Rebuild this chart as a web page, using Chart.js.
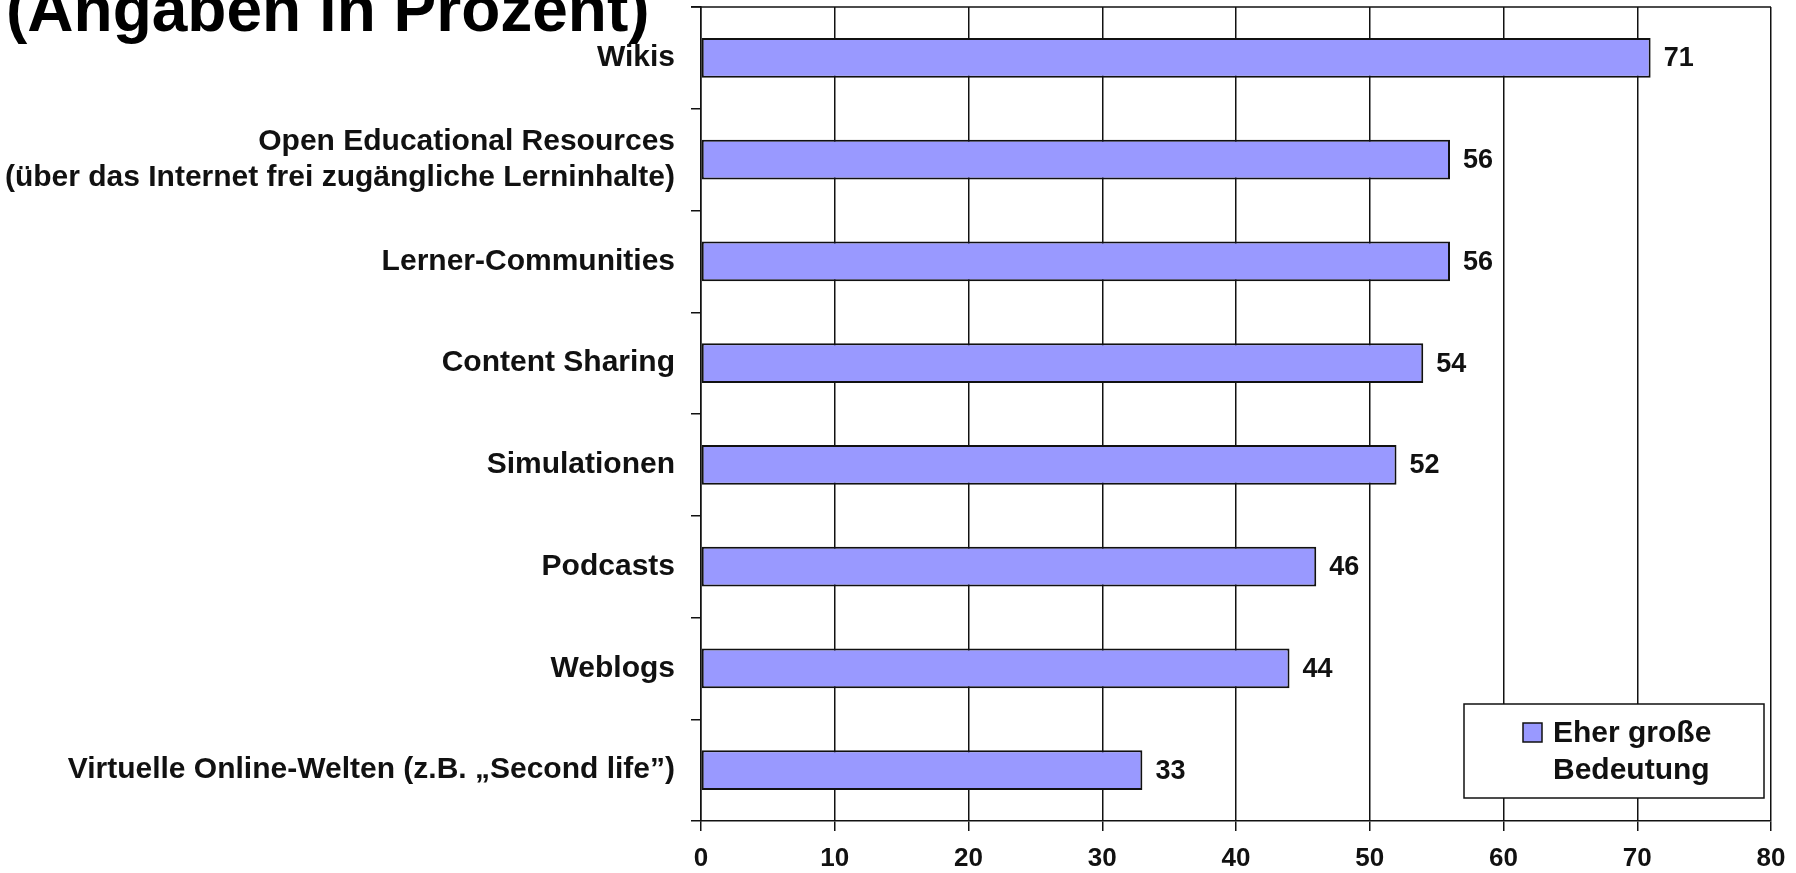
<!DOCTYPE html>
<html>
<head>
<meta charset="utf-8">
<script src="https://cdn.jsdelivr.net/npm/chart.js@4/dist/chart.umd.min.js"></script>
<style>
  html, body { margin: 0; padding: 0; background: #ffffff; }
  #wrap { width: 1796px; height: 873px; }
</style>
</head>
<body>
<div id="wrap"><canvas id="chart" width="1796" height="873"></canvas></div>
<script>
const categories = [
  "Wikis",
  ["Open Educational Resources", "(über das Internet frei zugängliche Lerninhalte)"],
  "Lerner-Communities",
  "Content Sharing",
  "Simulationen",
  "Podcasts",
  "Weblogs",
  "Virtuelle Online-Welten (z.B. „Second life”)",
];
const values = [71, 56, 56, 54, 52, 46, 44, 33];
const seriesLabel = ["Eher große", "Bedeutung"];
const xTicks = [0, 10, 20, 30, 40, 50, 60, 70, 80];
const titleText = "(Angaben in Prozent)";

const FONT = "'Liberation Sans', Arial, sans-serif";
const INK = "#111111";

const valueLabels = {
  id: "valueLabels",
  afterDatasetsDraw(chart) {
    const { ctx } = chart;
    const meta = chart.getDatasetMeta(0);
    ctx.save();
    ctx.font = `bold 27px ${FONT}`;
    ctx.fillStyle = INK;
    ctx.textAlign = "left";
    ctx.textBaseline = "middle";
    meta.data.forEach((bar, i) => {
      ctx.fillText(String(chart.data.datasets[0].data[i]), bar.x + 13, bar.y + 1);
    });
    ctx.restore();
  },
};

const frameAndText = {
  id: "frameAndText",
  afterDraw(chart) {
    const { ctx, chartArea } = chart;
    ctx.save();
    // top border of the plot
    ctx.strokeStyle = INK;
    ctx.lineWidth = 1.5;
    ctx.beginPath();
    ctx.moveTo(chartArea.left - 10, chartArea.top);
    ctx.lineTo(chartArea.right, chartArea.top);
    ctx.stroke();

    // title, partly cut at the top
    ctx.font = `bold 64px ${FONT}`;
    ctx.fillStyle = "#000000";
    ctx.textAlign = "left";
    ctx.textBaseline = "alphabetic";
    ctx.fillText(titleText, 6, 31);

    // legend box
    const ds = chart.data.datasets[0];
    const bx = chartArea.right - 307;
    const by = chartArea.bottom - 117;
    ctx.fillStyle = "#ffffff";
    ctx.fillRect(bx, by, 300, 94);
    ctx.strokeStyle = INK;
    ctx.lineWidth = 1.5;
    ctx.strokeRect(bx, by, 300, 94);
    ctx.fillStyle = ds.backgroundColor;
    ctx.fillRect(bx + 59, by + 19, 19, 19);
    ctx.strokeRect(bx + 59, by + 19, 19, 19);
    ctx.fillStyle = INK;
    ctx.font = `bold 30px ${FONT}`;
    ctx.textBaseline = "middle";
    ds.label.forEach((line, i) => {
      ctx.fillText(line, bx + 89, by + 30 + i * 37);
    });
    ctx.restore();
  },
};

new Chart(document.getElementById("chart"), {
  type: "bar",
  data: {
    labels: categories,
    datasets: [{
      label: seriesLabel,
      data: values,
      backgroundColor: "#9999ff",
      borderColor: INK,
      borderWidth: 2,
      borderSkipped: false,
      barPercentage: 0.39,
      categoryPercentage: 1,
    }],
  },
  options: {
    indexAxis: "y",
    responsive: false,
    animation: false,
    layout: { padding: { top: 7, right: 25, left: 0, bottom: 0 } },
    plugins: {
      legend: { display: false },
      title: { display: false },
      tooltip: { enabled: false },
    },
    scales: {
      x: {
        min: 0,
        max: 80,
        afterBuildTicks(scale) {
          scale.ticks = xTicks.map((v) => ({ value: v }));
        },
        afterFit(scale) {
          scale.height = 52;
          scale.paddingLeft = 0;
          scale.paddingRight = 0;
        },
        grid: {
          color: INK,
          lineWidth: 1.5,
          tickLength: 10,
          tickColor: INK,
        },
        border: { color: INK, width: 1.5 },
        ticks: {
          color: INK,
          padding: 12,
          font: { family: FONT, size: 26, weight: "bold" },
        },
      },
      y: {
        afterFit(scale) {
          scale.width = 701;
          scale.paddingTop = 0;
          scale.paddingBottom = 0;
        },
        grid: {
          offset: true,
          drawOnChartArea: false,
          color: INK,
          lineWidth: 1.5,
          tickLength: 10,
        },
        border: { color: INK, width: 1.5 },
        ticks: {
          color: INK,
          padding: 16,
          font: { family: FONT, size: 30, weight: "bold", lineHeight: 1.2 },
        },
      },
    },
  },
  plugins: [valueLabels, frameAndText],
});
</script>
</body>
</html>
